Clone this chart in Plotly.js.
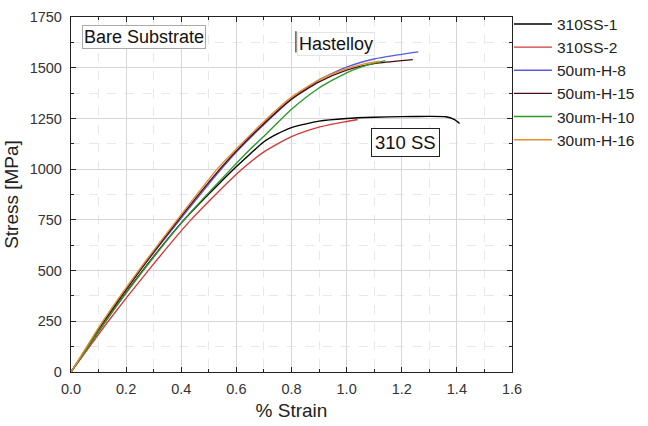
<!DOCTYPE html>
<html>
<head>
<meta charset="utf-8">
<script src="https://cdn.plot.ly/plotly-3.0.1.min.js"></script>
<style>html,body{margin:0;padding:0;background:#fff;}#chart{width:648px;height:426px;}</style>
</head>
<body>
<div id="chart"></div>
<script>
// Series names
const seriesNames = ["310SS-1", "310SS-2", "50um-H-8", "50um-H-15", "30um-H-10", "30um-H-16"];
const seriesColors = ["#000000", "#d23a3a", "#5a5ae0", "#4a0c14", "#2a9a2a", "#e0902e"];

// Strain (%) and stress (MPa) values
const ss1Strain = [0, 0.125, 0.26, 0.41, 0.59, 0.65, 0.7, 0.75, 0.8, 0.9, 1.0, 1.1, 1.2, 1.3, 1.36, 1.39, 1.41];
const ss1Stress = [0, 250, 500, 750, 1000, 1075, 1135, 1175, 1205, 1237, 1250, 1256, 1259, 1260, 1258, 1245, 1225];

const ss2Strain = [0, 0.135, 0.28, 0.435, 0.6, 0.7, 0.8, 0.9, 1.0, 1.04];
const ss2Stress = [0, 250, 500, 750, 975, 1085, 1160, 1207, 1235, 1245];

const h8Strain = [0, 0.12, 0.25, 0.395, 0.545, 0.6, 0.7, 0.8, 0.9, 1.0, 1.1, 1.2, 1.26];
const h8Stress = [0, 250, 500, 750, 1000, 1085, 1220, 1345, 1440, 1503, 1543, 1566, 1578];

const h15Strain = [0, 0.12, 0.25, 0.39, 0.54, 0.6, 0.7, 0.8, 0.9, 1.0, 1.1, 1.2, 1.24];
const h15Stress = [0, 250, 500, 750, 1000, 1090, 1225, 1345, 1430, 1488, 1520, 1535, 1540];

const h10Strain = [0, 0.125, 0.262, 0.41, 0.58, 0.65, 0.7, 0.8, 0.9, 1.0, 1.08, 1.14];
const h10Stress = [0, 250, 500, 750, 1000, 1098, 1162, 1295, 1400, 1475, 1515, 1535];

const h16Strain = [0, 0.115, 0.245, 0.385, 0.53, 0.6, 0.7, 0.8, 0.9, 1.0, 1.06, 1.12];
const h16Stress = [0, 250, 500, 750, 1000, 1100, 1235, 1355, 1440, 1495, 1518, 1532];

const strains = [ss1Strain, ss2Strain, h8Strain, h15Strain, h10Strain, h16Strain];
const stresses = [ss1Stress, ss2Stress, h8Stress, h15Stress, h10Stress, h16Stress];

// Axis ticks
const xTickVals = [0, 0.2, 0.4, 0.6, 0.8, 1.0, 1.2, 1.4, 1.6];
const yTickVals = [0, 250, 500, 750, 1000, 1250, 1500, 1750];

const FONT = "Liberation Sans, Arial, sans-serif";

const traces = seriesNames.map((name, i) => ({
  type: "scatter",
  mode: "lines",
  name: name,
  x: strains[i],
  y: stresses[i],
  line: {color: seriesColors[i], width: 1.4, shape: "spline", smoothing: 0.6}
}));

const layout = {
  width: 648,
  height: 426,
  margin: {l: 71, r: 0, t: 5, b: 54},
  paper_bgcolor: "#ffffff",
  plot_bgcolor: "#ffffff",
  font: {family: FONT, color: "#222"},
  showlegend: true,
  legend: {
    x: 0.759, y: 0.9935, xanchor: "left", yanchor: "top",
    font: {family: FONT, size: 15.5, color: "#222"},
    bgcolor: "rgba(0,0,0,0)",
    tracegroupgap: 0,
    itemwidth: 38
  },
  xaxis: {
    domain: [0, 0.7643],
    range: [0, 1.6],
    tickvals: xTickVals,
    tickformat: ".1f",
    ticks: "inside",
    ticklen: 5,
    tickcolor: "#222",
    showline: true,
    linecolor: "#222",
    linewidth: 1.2,
    mirror: "ticks",
    showgrid: true,
    gridcolor: "#d6d6d6",
    gridwidth: 1,
    zeroline: false,
    ticklabelstandoff: 3,
    tickfont: {family: FONT, size: 14.5, color: "#333"},
    title: {text: "% Strain", font: {family: FONT, size: 19, color: "#222"}, standoff: 8},
    minor: {dtick: 0.1, ticks: "inside", ticklen: 3, tickcolor: "#222", showgrid: true, gridcolor: "#e8e8e8", griddash: "dash"}
  },
  yaxis: {
    domain: [0, 0.9673],
    range: [0, 1750],
    tickvals: yTickVals,
    ticks: "inside",
    ticklen: 5,
    tickcolor: "#222",
    showline: true,
    linecolor: "#222",
    linewidth: 1.2,
    mirror: "ticks",
    showgrid: true,
    gridcolor: "#d6d6d6",
    gridwidth: 1,
    zeroline: false,
    ticklabelstandoff: 5,
    tickfont: {family: FONT, size: 14.5, color: "#333"},
    title: {text: "Stress [MPa]", font: {family: FONT, size: 19, color: "#222"}, standoff: 6},
    minor: {dtick: 125, ticks: "inside", ticklen: 3, tickcolor: "#222", showgrid: true, gridcolor: "#e8e8e8", griddash: "dash"}
  },
  annotations: [
    {x: 0.266, y: 1649, xref: "x", yref: "y", text: "Bare Substrate", showarrow: false,
     font: {family: FONT, size: 18, color: "#111"}, bordercolor: "#aaaaaa", borderwidth: 1, borderpad: 1, bgcolor: "#ffffff"},
    {x: 0.962, y: 1618, xref: "x", yref: "y", text: "Hastelloy", showarrow: false,
     font: {family: FONT, size: 18, color: "#111"}, bordercolor: "#e4e4e4", borderwidth: 1, borderpad: 1, bgcolor: "#ffffff"},
    {x: 1.213, y: 1129, xref: "x", yref: "y", text: "310 SS", showarrow: false,
     font: {family: FONT, size: 18.5, color: "#111"}, bordercolor: "#222222", borderwidth: 1, borderpad: 3, bgcolor: "#ffffff"}
  ],
  shapes: [
    {type: "line", xref: "x", yref: "y", x0: 0.816, x1: 0.816, y0: 1575, y1: 1680, line: {color: "#333", width: 1.2}}
  ]
};

Plotly.newPlot("chart", traces, layout, {displayModeBar: false, staticPlot: true});
</script>
</body>
</html>
